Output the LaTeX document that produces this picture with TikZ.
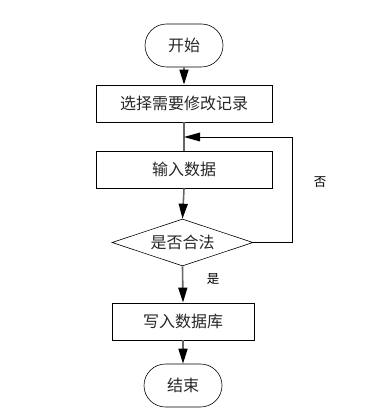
\documentclass[tikz,border=0pt]{standalone}
\usepackage{fontspec}
\newfontfamily\cjk{Noto Sans CJK SC}
\usetikzlibrary{shapes.geometric,shapes.misc,arrows.meta}
\begin{document}
\begin{tikzpicture}[x=1pt,y=-1pt,
  every node/.style={font=\cjk\fontsize{16}{18}\selectfont, text=black!85},
  term/.style={draw, rounded rectangle, minimum width=78pt, minimum height=43pt, inner sep=0pt, line width=0.6pt},
  procbox/.style={draw, rectangle, minimum height=37pt, inner sep=0pt, line width=0.8pt},
  decide/.style={draw, diamond, aspect=3, minimum width=141pt, minimum height=47pt, inner sep=0pt, line width=0.6pt},
  flow/.style={draw=black!60, line width=1.6pt, -{Triangle[length=15pt,width=9pt,color=black]}},
  loopline/.style={draw=black, line width=0.8pt},
  lbl/.style={font=\cjk\fontsize{12.5}{14}\selectfont, text=black}]
\useasboundingbox (0,0) rectangle (389,414);
\node[term] (start) at (184,45.5) {开始};
\node[procbox, minimum width=176pt] (sel) at (184,103.5) {选择需要修改记录};
\node[procbox, minimum width=176pt] (inp) at (184,169.5) {输入数据};
\node[decide] (dec) at (182.5,242.5) {是否合法};
\node[procbox, minimum width=142pt] (wr) at (183,321.5) {写入数据库};
\node[term] (end) at (183,385.5) {结束};
\coordinate (m) at (184,137);
\coordinate (c1) at (292,242.5);
\coordinate (c2) at (292,137);
\draw[flow] (start) -- (sel);
\draw[draw=black!60, line width=1.6pt] (sel) -- (inp);
\draw[flow] (inp.south) -- (dec.north);
\draw[flow] (dec.south) -- (wr.north);
\draw[flow] (wr) -- (end);
\draw[loopline] (dec.east) -- (c1) -- (c2) -- ([xshift=16pt]m);
\fill (m) -- ++(16pt,-4.5pt) -- ++(0,9pt) -- cycle;
\node[lbl] (no) at (320,182) {否};
\node[lbl] (yes) at (213,279) {是};
\end{tikzpicture}
\end{document}
